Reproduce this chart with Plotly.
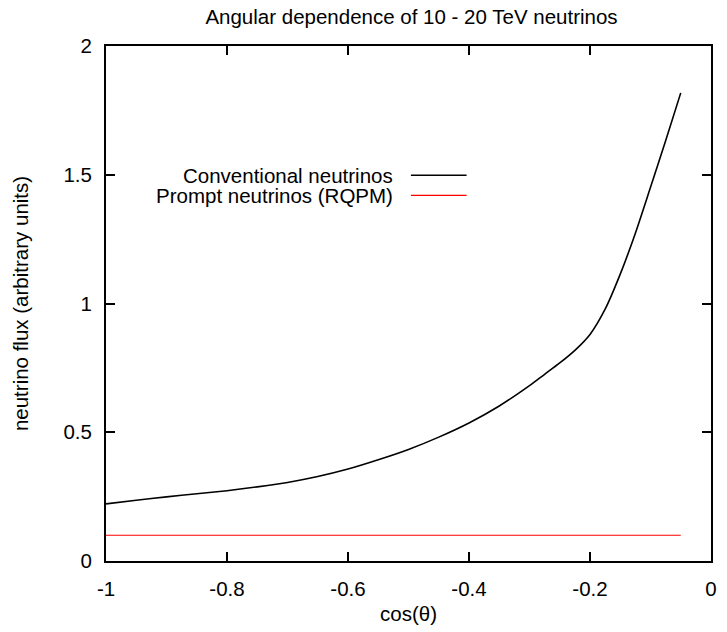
import plotly.graph_objects as go

# Data
cos_theta = [-1.00, -0.95, -0.90, -0.85, -0.80, -0.75, -0.70, -0.65, -0.60, -0.55,
             -0.50, -0.45, -0.40, -0.35, -0.30, -0.275, -0.25, -0.225, -0.20, -0.175,
             -0.15, -0.125, -0.10, -0.075, -0.05]
conventional = [0.222, 0.236, 0.249, 0.261, 0.273, 0.288, 0.305, 0.328, 0.357, 0.393,
                0.433, 0.481, 0.536, 0.602, 0.681, 0.725, 0.769, 0.818, 0.880, 0.978,
                1.114, 1.273, 1.451, 1.632, 1.818]
prompt_x = [-1.00, -0.05]
prompt = [0.1, 0.1]

x_tickvals = [-1, -0.8, -0.6, -0.4, -0.2, 0]
x_ticktext = ["-1", "-0.8", "-0.6", "-0.4", "-0.2", "0"]
y_tickvals = [0, 0.5, 1, 1.5, 2]
y_ticktext = ["0", "0.5", "1", "1.5", "2"]

series_names = ["Conventional neutrinos", "Prompt neutrinos (RQPM)"]
series_colors = ["#000000", "#ff0000"]

FONT = "Liberation Sans, Arial, Helvetica, sans-serif"
FS = 20.5

fig = go.Figure()
fig.add_trace(go.Scatter(x=cos_theta, y=conventional, mode="lines",
                         line=dict(color=series_colors[0], width=1.6,
                                   shape="spline", smoothing=0.7),
                         name=series_names[0], showlegend=False))
fig.add_trace(go.Scatter(x=prompt_x, y=prompt, mode="lines",
                         line=dict(color=series_colors[1], width=1.1),
                         name=series_names[1], showlegend=False))

# Gnuplot-style key: text right-aligned, line sample to the right
key_y = [0.749, 0.710]
for name, color, yy, w in zip(series_names, series_colors, key_y, [1.6, 1.1]):
    fig.add_annotation(x=0.478, y=yy, xref="paper", yref="paper", text=name,
                       showarrow=False, xanchor="right", yanchor="middle",
                       font=dict(family=FONT, size=FS, color="black"))
    fig.add_shape(type="line", xref="paper", yref="paper", x0=0.504, x1=0.596,
                  y0=yy, y1=yy, line=dict(color=color, width=w))

axis_common = dict(showgrid=False, zeroline=False, showline=True, linecolor="black",
                   linewidth=2, mirror="ticks", ticks="inside", ticklen=9,
                   tickwidth=1.5, tickcolor="black",
                   tickfont=dict(family=FONT, size=FS, color="black"))

fig.update_layout(
    width=727, height=632,
    margin=dict(l=106, r=10, t=46, b=65),
    paper_bgcolor="white", plot_bgcolor="white",
    title=dict(text="Angular dependence of 10 - 20 TeV neutrinos",
               x=0.566, xanchor="center", y=0.973, yanchor="middle",
               font=dict(family=FONT, size=FS, color="black")),
    xaxis=dict(range=[-1, 0], tickvals=x_tickvals, ticktext=x_ticktext,
               ticklabelstandoff=8,
               title=dict(text="cos(θ)", standoff=8,
                          font=dict(family=FONT, size=FS, color="black")),
               **axis_common),
    yaxis=dict(range=[0, 2], tickvals=y_tickvals, ticktext=y_ticktext,
               ticklabelstandoff=8,
               title=dict(text="neutrino flux (arbitrary units)", standoff=29,
                          font=dict(family=FONT, size=FS, color="black")),
               **axis_common),
)

fig.write_html("out.html",
               config={"displayModeBar": False},
               post_script="document.body.style.margin='0';"
                           "document.body.style.overflow='hidden';")
